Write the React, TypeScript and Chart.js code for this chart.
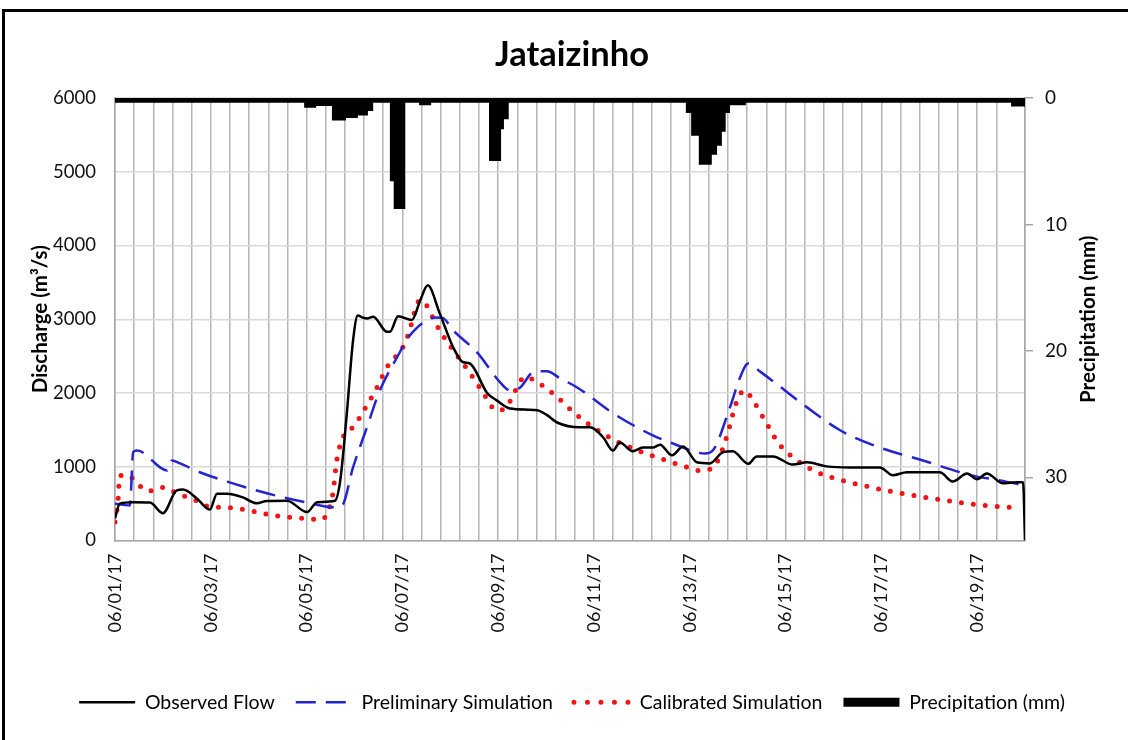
import React, { useEffect, useRef } from 'react';
import { Chart, registerables } from 'chart.js';

Chart.register(...registerables);

// ---- Data (x = days since 06/01/17 00:00) ----
const obsDays = [0.00,0.10,0.38,0.73,1.00,1.29,1.42,1.71,1.98,2.13,2.34,2.67,2.96,3.17,3.59,4.01,4.22,4.59,4.70,4.84,4.97,5.07,5.18,5.26,5.39,5.68,5.74,5.91,6.20,6.37,6.53,6.78,7.06,7.26,7.41,7.77,7.97,8.25,8.81,9.02,9.23,9.71,9.92,10.19,10.40,10.54,10.81,11.02,11.23,11.38,11.63,11.86,12.15,12.42,12.69,12.90,13.22,13.40,13.74,14.15,14.45,14.86,15.34,15.97,16.24,16.53,17.22,17.49,17.79,18.00,18.20,18.54,18.83,18.96,19.00];
const obsFlow = [300,500,520,515,370,680,690,570,420,635,635,585,505,535,540,385,520,540,800,1720,2710,3050,3020,3010,3035,2830,2830,3040,2990,3250,3460,3080,2620,2420,2400,2000,1900,1790,1765,1700,1600,1535,1535,1400,1220,1330,1210,1260,1260,1300,1155,1275,1060,1045,1195,1210,1040,1140,1140,1030,1060,1005,990,990,885,925,925,800,910,830,910,775,790,790,0];

const prelimDays = [0.00,0.31,0.38,0.46,1.09,1.19,1.36,1.77,2.46,3.17,4.01,4.55,4.74,4.97,5.26,5.53,5.89,6.16,6.72,6.85,7.06,7.56,8.04,8.25,8.46,8.73,9.02,9.29,9.65,10.40,11.23,11.65,12.32,12.48,12.84,13.05,13.22,13.47,14.45,15.14,15.97,16.87,17.91,18.48,19.00];
const prelimFlow = [500,475,1200,1220,950,1085,1045,925,775,640,515,450,475,990,1535,2035,2485,2785,3025,3015,2850,2550,2145,2035,2075,2280,2295,2200,2075,1725,1425,1315,1180,1220,1805,2210,2400,2290,1805,1495,1260,1085,880,815,745];

const calDays = [0.00,0.06,0.10,0.27,0.46,0.69,1.00,1.29,1.77,1.98,2.25,2.82,3.30,3.86,4.32,4.45,4.55,4.63,4.80,4.97,5.22,5.47,5.68,6.01,6.12,6.37,6.53,6.64,6.78,7.06,7.37,7.66,7.97,8.18,8.31,8.56,8.81,9.23,9.60,10.02,10.50,10.96,11.44,11.94,12.17,12.46,12.61,12.78,12.99,13.15,13.32,13.59,13.86,14.24,14.70,15.18,15.70,16.20,16.72,17.22,17.75,18.27,18.79];
const calFlow = [250,520,880,885,775,670,720,640,520,455,450,405,340,305,285,405,640,1085,1450,1535,1790,2075,2350,2620,2785,3260,3165,3015,2850,2580,2310,2030,1765,1810,1970,2215,2150,1945,1725,1520,1335,1210,1100,995,950,975,1115,1425,1900,2035,1900,1605,1315,1085,915,815,735,665,605,555,505,470,445];

// precipitation: value precipMm[i] holds from precipDays[i] until precipDays[i+1]
const precipDays = [0,3.97,4.18,4.55,4.80,5.05,5.26,5.37,5.76,5.84,6.04,6.37,6.58,7.83,8.04,8.10,8.20,11.94,12.05,12.21,12.44,12.55,12.65,12.73,12.82,13.15,18.73,19.0];
const precipMm = [0.3,0.7,0.55,1.7,1.5,1.3,0.95,0.3,6.5,8.7,0.3,0.5,0.3,4.9,2.4,1.6,0.3,1.1,2.9,5.2,4.4,3.7,2.6,1.1,0.5,0.3,0.6,0.6];

const dateTickDays = [0,2,4,6,8,10,12,14,16,18];
const dateTickLabels = ['06/01/17','06/03/17','06/05/17','06/07/17','06/09/17','06/11/17','06/13/17','06/15/17','06/17/17','06/19/17'];

const titleText = 'Jataizinho';
const leftAxisTitle = 'Discharge (m³/s)';
const rightAxisTitle = 'Precipitation (mm)';
const seriesNames = ['Observed Flow', 'Preliminary Simulation', 'Calibrated Simulation', 'Precipitation (mm)'];

const BLUE = '#2424d2';
const RED = '#f01414';
const FONT = 'Lato';

const zip = (xs: number[], ys: number[]) =>
  xs.slice(0, Math.min(xs.length, ys.length)).map((x, i) => ({ x, y: ys[i] }));

const stepPoints = (xs: number[], ys: number[]) => {
  const n = Math.min(xs.length, ys.length);
  const pts: { x: number; y: number }[] = [];
  for (let i = 0; i < n; i++) {
    pts.push({ x: xs[i], y: ys[i] });
    if (i < n - 1) pts.push({ x: xs[i + 1], y: ys[i] });
  }
  return pts;
};

const rightTitlePlugin = {
  id: 'rightTitle',
  afterDraw(chart: any) {
    const { ctx, chartArea } = chart;
    const s = chart.scales.yP;
    ctx.save();
    ctx.font = `bold 20.5px ${FONT}`;
    ctx.fillStyle = '#000';
    ctx.textAlign = 'center';
    ctx.textBaseline = 'middle';
    ctx.translate(s.right - 40, (chartArea.top + chartArea.bottom) / 2);
    ctx.rotate(-Math.PI / 2);
    ctx.fillText(rightAxisTitle, 0, 0);
    ctx.restore();
  },
};

export default function App() {
  const ref = useRef<HTMLCanvasElement>(null);

  useEffect(() => {
    if (!ref.current) return;
    Chart.defaults.font.family = FONT;
    Chart.defaults.color = '#111';

    const legendItems = [
      { text: seriesNames[0], strokeStyle: '#000', fillStyle: '#000', lineWidth: 2.5, lineDash: [], lineCap: 'butt', pointStyle: 'line', hidden: false, datasetIndex: 0 },
      { text: seriesNames[1], strokeStyle: BLUE, fillStyle: BLUE, lineWidth: 2.5, lineDash: [20, 10], lineCap: 'butt', pointStyle: 'line', hidden: false, datasetIndex: 1 },
      { text: seriesNames[2], strokeStyle: RED, fillStyle: RED, lineWidth: 5, lineDash: [0, 13.5], lineCap: 'round', pointStyle: 'line', hidden: false, datasetIndex: 2 },
      { text: seriesNames[3], strokeStyle: '#000', fillStyle: '#000', lineWidth: 9, lineDash: [], lineCap: 'butt', pointStyle: 'line', hidden: false, datasetIndex: 3 },
    ];

    const chart = new Chart(ref.current, {
      type: 'line',
      data: {
        datasets: [
          {
            label: seriesNames[0],
            data: zip(obsDays, obsFlow),
            yAxisID: 'y',
            borderColor: '#000',
            borderWidth: 2.5,
            pointRadius: 0,
            cubicInterpolationMode: 'monotone',
            fill: false,
          },
          {
            label: seriesNames[1],
            data: zip(prelimDays, prelimFlow),
            yAxisID: 'y',
            borderColor: BLUE,
            borderWidth: 2.5,
            borderDash: [20, 10],
            pointRadius: 0,
            cubicInterpolationMode: 'monotone',
            fill: false,
          },
          {
            label: seriesNames[2],
            data: zip(calDays, calFlow),
            yAxisID: 'y',
            borderColor: RED,
            borderWidth: 5,
            borderDash: [0, 12],
            borderCapStyle: 'round',
            pointRadius: 0,
            cubicInterpolationMode: 'monotone',
            fill: false,
          },
          {
            label: seriesNames[3],
            data: stepPoints(precipDays, precipMm),
            yAxisID: 'yP',
            borderColor: '#000',
            backgroundColor: '#000',
            borderWidth: 2,
            tension: 0,
            pointRadius: 0,
            fill: 'origin',
          },
        ],
      } as any,
      options: {
        responsive: false,
        animation: false,
        events: [],
        layout: { padding: { left: 16, right: 0, top: 0, bottom: 18 } },
        plugins: {
          title: {
            display: true,
            text: titleText,
            color: '#000',
            font: { family: FONT, size: 34.5, weight: 'bold' },
            padding: { top: 34, bottom: 22.6 },
          },
          legend: {
            position: 'bottom',
            labels: {
              usePointStyle: true,
              pointStyleWidth: 56,
              padding: 21,
              color: '#000',
              font: { family: FONT, size: 19.5 },
              generateLabels: () => legendItems as any,
            },
          },
          tooltip: { enabled: false },
        },
        scales: {
          x: {
            type: 'linear',
            min: 0,
            max: 19,
            afterFit: (s: any) => { s.height = 131; },
            grid: { color: '#b5b5b5', lineWidth: 1.5, drawTicks: false },
            border: { color: '#a6a6a6', width: 1.5 },
            ticks: {
              stepSize: 0.4,
              autoSkip: false,
              minRotation: 90,
              maxRotation: 90,
              padding: 13,
              color: '#111',
              font: { family: FONT, size: 18 },
              callback: (v: any) => {
                const i = dateTickDays.findIndex((d) => Math.abs(d - Number(v)) < 1e-6);
                return i >= 0 ? dateTickLabels[i] : '';
              },
            },
          },
          y: {
            position: 'left',
            min: 0,
            max: 6000,
            afterFit: (s: any) => { s.width = 99; },
            grid: { color: '#d9d9d9', lineWidth: 1.5, drawTicks: false },
            border: { color: '#a6a6a6', width: 1.5 },
            ticks: {
              stepSize: 1000,
              padding: 19,
              color: '#111',
              font: { family: FONT, size: 18.5 },
              callback: (v: any) => String(v),
            },
            title: {
              display: true,
              text: leftAxisTitle,
              color: '#000',
              font: { family: FONT, size: 20.5, weight: 'bold' },
              padding: { top: 11.7, bottom: 0 },
            },
          },
          yP: {
            position: 'right',
            min: 0,
            max: 35,
            reverse: true,
            afterFit: (s: any) => { s.width = 103; },
            grid: { drawOnChartArea: false, drawTicks: true, tickLength: 8, color: '#a6a6a6', lineWidth: 1.5 },
            border: { color: '#a6a6a6', width: 1.5 },
            ticks: { stepSize: 10, includeBounds: false, padding: 12, color: '#111', font: { family: FONT, size: 19 } },
          },
        },
      } as any,
      plugins: [rightTitlePlugin],
    });
    return () => chart.destroy();
  }, []);

  return (
    <div style={{ position: 'fixed', left: 0, top: 0, width: 1128, height: 740, background: '#fff', overflow: 'hidden' }}>
      <canvas ref={ref} width={1128} height={740} style={{ position: 'absolute', left: 0, top: 0, width: 1128, height: 740 }} />
      <div style={{ position: 'absolute', left: 2, top: 9, right: 0, height: 3, background: '#000' }} />
      <div style={{ position: 'absolute', left: 2, top: 9, bottom: 0, width: 3, background: '#000' }} />
    </div>
  );
}
